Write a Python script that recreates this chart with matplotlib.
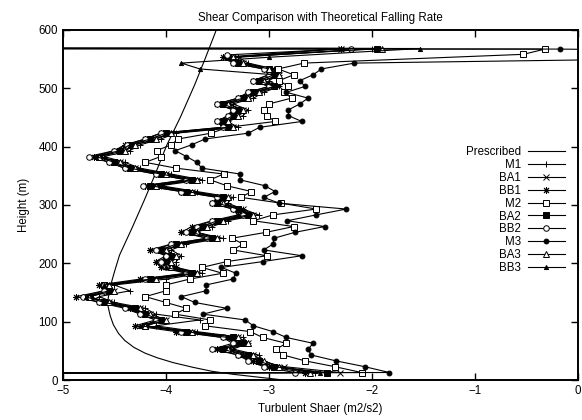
import numpy as np
import matplotlib
matplotlib.use('Agg')
import matplotlib.pyplot as plt

plt.rcParams['font.family'] = ['Liberation Sans', 'DejaVu Sans']

# heights of the model levels (m)
heights = np.arange(13, 553, 10)

# prescribed (theoretical) profile
presc_h = [0, 3, 6, 10, 15, 22, 30, 38, 46, 56, 68, 80, 95, 110, 125, 140, 160, 185, 214,
           260, 308, 350, 403, 450, 506, 550, 600, 640]
presc_x = [-2.85, -3.0, -3.15, -3.35, -3.55, -3.74, -3.93, -4.08, -4.2, -4.31, -4.40, -4.46,
           -4.51, -4.54, -4.56, -4.56, -4.54, -4.50, -4.45, -4.33, -4.21, -4.11, -3.99, -3.86,
           -3.72, -3.62, -3.51, -3.42]

M1 = [-2.55, -2.9, -3.05, -3.1, -3.35, -3.2, -3.25, -3.7, -4.1, -3.67, -4.1, -4.2, -4.5, -4.65,
      -4.35, -4.5, -4.0, -3.65, -3.9, -3.9, -3.85, -3.95, -3.8, -3.45, -3.7, -3.55, -3.4, -3.1,
      -3.25, -3.4, -3.35, -3.7, -4.05, -3.65, -3.95, -4.25, -4.4, -4.6, -4.35, -4.25, -4.05, -3.9,
      -3.3, -3.4, -3.25, -3.2, -3.35, -3.15, -3.05, -2.9, -3.0, -2.9, -2.95, -3.2]
BA1 = [-2.31, -2.85, -3.1, -3.15, -3.4, -3.2, -3.3, -3.75, -4.2, -4.0, -4.15, -4.25, -4.55, -4.75,
       -4.5, -4.55, -4.1, -3.7, -3.9, -3.95, -3.9, -4.0, -3.85, -3.5, -3.7, -3.6, -3.45, -3.15,
       -3.25, -3.45, -3.4, -3.75, -4.1, -3.7, -4.0, -4.3, -4.45, -4.65, -4.4, -4.3, -4.1, -3.95,
       -3.35, -3.4, -3.3, -3.25, -3.4, -3.2, -3.1, -2.9, -3.05, -2.9, -2.95, -3.25]
BB1 = [-2.65, -3.0, -3.15, -3.3, -3.5, -3.3, -3.45, -3.9, -4.3, -4.1, -4.25, -4.35, -4.65, -4.87,
       -4.6, -4.65, -4.25, -3.8, -4.05, -4.1, -4.0, -4.15, -3.95, -3.6, -3.85, -3.75, -3.55, -3.3,
       -3.35, -3.55, -3.5, -3.85, -4.2, -3.8, -4.1, -4.4, -4.55, -4.7, -4.5, -4.4, -4.2, -4.05,
       -3.45, -3.5, -3.4, -3.35, -3.5, -3.3, -3.2, -3.0, -3.15, -3.0, -3.05, -3.35]
M2 = [-2.1, -2.36, -2.65, -2.86, -2.93, -2.83, -3.06, -3.18, -3.62, -3.57, -3.91, -3.8, -4.0, -4.2,
      -4.0, -4.0, -3.77, -3.45, -3.65, -3.41, -3.02, -3.35, -3.25, -3.36, -3.03, -2.76, -3.15, -2.96,
      -2.54, -2.88, -3.27, -3.17, -3.41, -3.57, -3.44, -3.9, -4.2, -4.05, -4.09, -3.95, -3.88, -3.56,
      -3.4, -2.94, -3.02, -3.05, -3.0, -2.78, -2.85, -2.81, -2.9, -2.76, -2.91, -2.66]
BA2 = [-2.44, -2.95, -3.1, -3.2, -3.45, -3.25, -3.35, -3.8, -4.2, -4.05, -4.2, -4.3, -4.6, -4.74,
       -4.55, -4.6, -4.15, -3.75, -3.95, -4.0, -3.95, -4.05, -3.9, -3.55, -3.75, -3.65, -3.5, -3.2,
       -3.3, -3.5, -3.45, -3.8, -4.15, -3.75, -4.05, -4.35, -4.5, -4.65, -4.45, -4.35, -4.15, -4.0,
       -3.4, -3.45, -3.35, -3.3, -3.45, -3.25, -3.15, -2.95, -3.1, -2.95, -3.0, -3.3]
BB2 = [-2.75, -3.05, -3.2, -3.3, -3.55, -3.35, -3.45, -3.85, -4.2, -4.1, -4.25, -4.4, -4.65, -4.8,
       -4.6, -4.6, -4.2, -3.8, -4.0, -4.05, -4.0, -4.1, -3.95, -3.6, -3.8, -3.7, -3.55, -3.25,
       -3.35, -3.55, -3.5, -3.85, -4.22, -3.8, -4.1, -4.4, -4.55, -4.75, -4.5, -4.38, -4.2, -4.05,
       -3.45, -3.5, -3.4, -3.35, -3.5, -3.3, -3.2, -3.0, -3.15, -3.0, -3.05, -3.35]
M3 = [-1.83, -2.07, -2.35, -2.59, -2.62, -2.57, -2.83, -2.96, -3.15, -3.23, -3.64, -3.41, -3.72, -3.85,
      -3.61, -3.61, -3.35, -3.32, -3.46, -3.06, -2.68, -3.05, -2.96, -2.95, -2.75, -2.46, -2.82, -2.54,
      -2.25, -2.9, -3.05, -2.94, -3.04, -3.28, -3.28, -3.65, -3.7, -3.8, -3.91, -3.75, -3.62, -3.2,
      -3.09, -2.68, -2.81, -2.81, -2.7, -2.62, -2.83, -2.65, -2.7, -2.57, -2.49, -2.17]
BA3 = [-2.6, -2.9, -3.05, -3.15, -3.4, -3.2, -3.3, -3.75, -4.2, -4.0, -4.15, -4.25, -4.55, -4.75,
       -4.5, -4.55, -4.1, -3.7, -3.95, -3.95, -3.9, -4.0, -3.85, -3.5, -3.7, -3.6, -3.45, -3.15,
       -3.3, -3.45, -3.4, -3.75, -4.1, -3.7, -4.0, -4.3, -4.45, -4.65, -4.4, -4.3, -4.1, -3.95,
       -3.35, -3.4, -3.3, -3.25, -3.4, -3.2, -3.1, -2.95, -3.05, -2.9, -3.0, -3.25]
BB3 = [-2.5, -2.95, -3.1, -3.25, -3.45, -3.25, -3.4, -3.8, -4.25, -4.05, -4.2, -4.3, -4.6, -4.78,
       -4.55, -4.6, -4.15, -3.75, -4.0, -4.0, -3.95, -4.05, -3.9, -3.55, -3.75, -3.65, -3.5, -3.2,
       -3.3, -3.5, -3.45, -3.8, -4.15, -3.75, -4.05, -4.35, -4.5, -4.68, -4.45, -4.35, -4.15, -4.0,
       -3.4, -3.45, -3.35, -3.3, -3.45, -3.25, -3.15, -2.95, -3.1, -2.95, -3.67, -3.85]

# end points of each run (below / above the model levels, some far off scale)
start_h, start_x = 11.5, -9.0
tails = {
    'M1':  ([553, 568, 568.5], [-3.3, -2.0, -9.0]),
    'BA1': ([553, 568, 568.5], [-3.35, -2.3, -9.0]),
    'BB1': ([553, 568, 568.5], [-3.45, -2.3, -9.0]),
    'M2':  ([558, 567, 568], [-0.53, -0.32, -9.0]),
    'BA2': ([553, 568, 568.5], [-3.4, -1.95, -9.0]),
    'BB2': ([557, 568, 568.5], [-3.41, -2.2, -9.0]),
    'M3':  ([558, 567, 568], [4.0, -0.17, -9.0]),
    'BA3': ([553, 568, 568.5], [-3.35, -1.9, -9.0]),
    'BB3': ([553, 568, 568.5], [-3.0, -1.53, -9.0]),
}

series = [('M1', M1, dict(marker='+', ms=4.5)),
          ('BA1', BA1, dict(marker='x', ms=4)),
          ('BB1', BB1, dict(marker=(8, 2, 0), ms=5)),
          ('M2', M2, dict(marker='s', ms=4, mfc='white')),
          ('BA2', BA2, dict(marker='s', ms=4)),
          ('BB2', BB2, dict(marker='o', ms=4, mfc='white')),
          ('M3', M3, dict(marker='o', ms=3.5)),
          ('BA3', BA3, dict(marker='^', ms=4, mfc='white')),
          ('BB3', BB3, dict(marker='^', ms=3))]

fig, ax = plt.subplots(figsize=(5.82, 4.20), dpi=100)
fig.subplots_adjust(left=0.108, right=0.993, top=0.929, bottom=0.095)

ax.plot(presc_x, presc_h, color='black', lw=0.8, label='Prescribed')
for name, xs, style in series:
    th, tx = tails[name]
    x_all = [start_x] + list(xs) + tx
    h_all = [start_h] + list(heights) + th
    ax.plot(x_all, h_all, color='black', lw=0.8, mec='black', mew=0.7, label=name, **style)

ax.set_xlim(-5, 0)
ax.set_ylim(0, 600)
ax.set_xticks(np.arange(-5, 0.5, 1))
ax.set_yticks(np.arange(0, 601, 100))
ax.tick_params(direction='in', top=True, right=True, length=5, width=1, labelsize=8.3)
for s in ax.spines.values():
    s.set_linewidth(1.4)

ax.set_title('Shear Comparison with Theoretical Falling Rate', fontsize=8.3)
ax.set_xlabel('Turbulent Shaer (m2/s2)', fontsize=8.3, labelpad=4)
ax.set_ylabel('Height (m)', fontsize=8.3, labelpad=6)

ax.legend(loc='upper right', bbox_to_anchor=(0.99, 0.69), frameon=False, markerfirst=False,
          fontsize=8.3, handlelength=3.2, labelspacing=0.07, handletextpad=0.6, borderpad=0.2)

fig.savefig('out.png', dpi=100)
